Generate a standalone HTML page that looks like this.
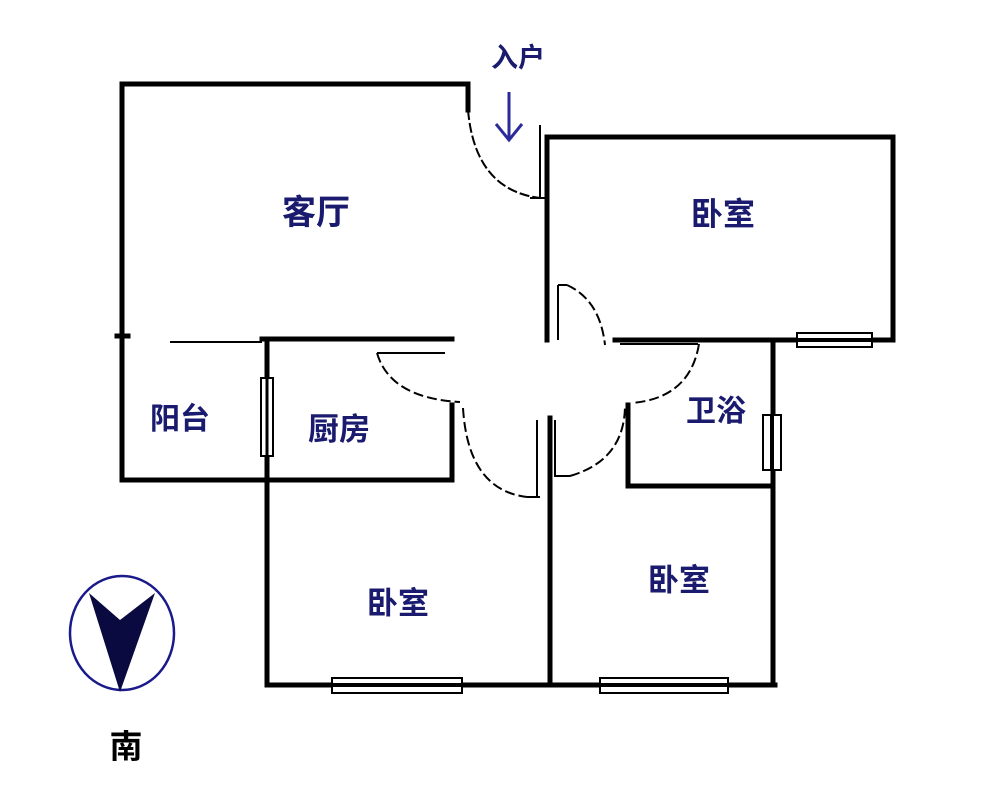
<!DOCTYPE html>
<html><head><meta charset="utf-8"><style>
html,body{margin:0;padding:0;background:#fff;}
svg{display:block}
text{font-family:"Liberation Sans","Noto Sans CJK SC",sans-serif;fill:#1a1a6e;font-weight:bold}
</style></head><body>
<svg width="1000" height="796" viewBox="0 0 1000 796" xmlns="http://www.w3.org/2000/svg">
<g stroke="#000" stroke-width="5" fill="none" stroke-linecap="square">
<polyline points="468,110 468,84 122,84 122,480"/>
<line x1="117" y1="336" x2="128" y2="336"/>
<polyline points="547,340 547,137 893,137 893,340 615,340"/>
<line x1="262" y1="339" x2="452" y2="339"/>
<line x1="122" y1="480" x2="452" y2="480"/>
<line x1="452" y1="405" x2="452" y2="480"/>
<line x1="267" y1="339" x2="267" y2="685"/>
<polyline points="267,685 775,685"/>
<line x1="550" y1="418" x2="550" y2="685"/>
<line x1="773" y1="340" x2="773" y2="685"/>
<polyline points="628,405 628,486 773,486"/>
</g>
<g stroke="#000" stroke-width="2" fill="none">
<line x1="170" y1="342" x2="262" y2="342"/>
<line x1="540" y1="125" x2="540" y2="198"/>
<line x1="530" y1="198" x2="545" y2="198"/>
<path d="M468,110 Q475,190 540,198" stroke-dasharray="10,3"/>
<line x1="558" y1="285" x2="558" y2="340"/>
<line x1="558" y1="285" x2="567" y2="285"/>
<path d="M567,285 Q600,300 605,345" stroke-dasharray="10,4"/>
<line x1="620" y1="344" x2="698" y2="344"/>
<path d="M699,344 Q690,398 632,403" stroke-dasharray="10,4"/>
<line x1="377" y1="353" x2="445" y2="353"/>
<path d="M377,353 Q390,398 460,402" stroke-dasharray="10,4"/>
<line x1="537" y1="420" x2="537" y2="497"/>
<line x1="527" y1="497" x2="540" y2="497"/>
<path d="M463,408 Q468,490 527,497" stroke-dasharray="10,4"/>
<line x1="555" y1="420" x2="555" y2="477"/>
<line x1="555" y1="476" x2="570" y2="476"/>
<path d="M570,476 Q625,460 625,405" stroke-dasharray="10,4"/>
<rect x="797" y="333" width="75" height="14" fill="#fff"/>
<line x1="797" y1="340" x2="872" y2="340" stroke-width="4"/>
<rect x="763" y="415" width="18" height="55" fill="#fff"/>
<line x1="772" y1="415" x2="772" y2="470" stroke-width="4"/>
<rect x="261" y="378" width="12" height="78" fill="#fff"/>
<line x1="267" y1="378" x2="267" y2="456" stroke-width="3"/>
<rect x="332" y="678" width="130" height="15" fill="#fff"/>
<line x1="332" y1="685" x2="462" y2="685" stroke-width="4"/>
<rect x="600" y="678" width="128" height="15" fill="#fff"/>
<line x1="600" y1="685" x2="728" y2="685" stroke-width="4"/>
</g>
<g stroke="#2a2a9a" stroke-width="3" fill="none">
<line x1="509" y1="92" x2="509" y2="140"/>
<polyline points="496,124 509,140 522,124"/>
</g>
<ellipse cx="122" cy="633" rx="52" ry="57" fill="none" stroke="#1a1a8a" stroke-width="2.5"/>
<polygon points="89,593 120,620 155,593 120,692" fill="#0a0a40"/>
<text x="316" y="224" font-size="34" text-anchor="middle" font-weight="normal">客厅</text>
<text x="723" y="225" font-size="32" text-anchor="middle">卧室</text>
<text x="180" y="429" font-size="30" text-anchor="middle">阳台</text>
<text x="339" y="440" font-size="31" text-anchor="middle">厨房</text>
<text x="716" y="421" font-size="30" text-anchor="middle">卫浴</text>
<text x="679" y="591" font-size="31" text-anchor="middle">卧室</text>
<text x="398" y="614" font-size="31" text-anchor="middle">卧室</text>
<text x="518" y="67" font-size="27" text-anchor="middle" font-weight="normal">入户</text>
<text x="126" y="758" font-size="33" text-anchor="middle" font-weight="normal" style="fill:#000">南</text>
</svg>
</body></html>
